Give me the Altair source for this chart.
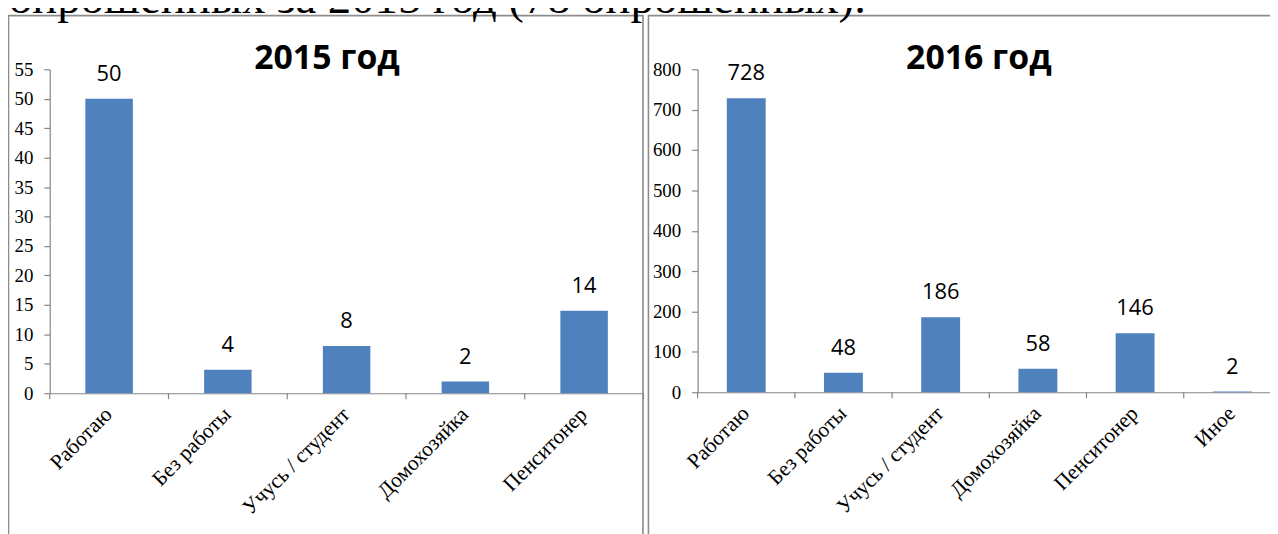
import altair as alt
import pandas as pd

# ---- data ----
cats_2015 = ["Работаю", "Без работы", "Учусь / студент", "Домохозяйка", "Пенситонер"]
vals_2015 = [50, 4, 8, 2, 14]
cats_2016 = ["Работаю", "Без работы", "Учусь / студент", "Домохозяйка", "Пенситонер", "Иное"]
vals_2016 = [728, 48, 186, 58, 146, 2]
yticks_2015 = [0, 5, 10, 15, 20, 25, 30, 35, 40, 45, 50, 55]
yticks_2016 = [0, 100, 200, 300, 400, 500, 600, 700, 800]
title_2015 = "2015 год"
title_2016 = "2016 год"
header_text = "опрошенных за 2015 год (78 опрошенных)."

# ---- style ----
W, H = 1270, 526
BLUE = "#4F81BD"
GRAY = "#868686"
BORDER = "#8C8C8C"
SERIF = "Liberation Serif"
SANS = "Open Sans"

df15 = pd.DataFrame({"cat": cats_2015, "val": vals_2015})
df16 = pd.DataFrame({"cat": cats_2016, "val": vals_2016})
one = pd.DataFrame({"k": [0]})


def panel(df, cats, yticks, ymax, xrange, yrange, yoff, xoff, axis_y):
    step = (xrange[1] - xrange[0]) / len(cats)
    gap = 0.3 * step
    x_axis = alt.Axis(orient="bottom", offset=xoff, title=None, labelAngle=-45,
                      labelAlign="right", labelBaseline="middle", labelPadding=18,
                      labelFont=SERIF, labelFontSize=21.5, labelColor="black",
                      domainColor=GRAY, domainWidth=1.2, ticks=False, grid=False)
    y_axis = alt.Axis(orient="left", offset=yoff, title=None, values=yticks,
                      labelFont=SERIF, labelFontSize=19, labelColor="black",
                      labelPadding=11, domainColor=GRAY, domainWidth=1.2,
                      tickColor=GRAY, tickSize=6, tickWidth=1.2, grid=False)
    x = alt.X("cat:N", sort=cats, axis=x_axis,
              scale=alt.Scale(range=xrange, paddingInner=0.6, paddingOuter=0.3))
    y = alt.Y("val:Q", axis=y_axis,
              scale=alt.Scale(domain=[0, ymax], range=yrange, nice=False))
    base = alt.Chart(df)
    bars = base.mark_bar(color=BLUE).encode(x=x, y=y)
    labels = base.mark_text(font=SANS, fontSize=22, color="black",
                            baseline="alphabetic", dy=-18).encode(
        x=alt.X("cat:N", sort=cats), y=alt.Y("val:Q"), text=alt.Text("val:Q"))
    # category-boundary tick marks (between the bars)
    ticks = base.mark_rule(color=GRAY, strokeWidth=1.2, xOffset=-gap).encode(
        x=alt.X("cat:N", sort=cats, bandPosition=0),
        y=alt.value(axis_y), y2=alt.value(axis_y + 6))
    end_tick = base.transform_filter(
        alt.datum.cat == cats[-1]
    ).mark_rule(color=GRAY, strokeWidth=1.2, xOffset=gap).encode(
        x=alt.X("cat:N", sort=cats, bandPosition=1),
        y=alt.value(axis_y), y2=alt.value(axis_y + 6))
    return alt.layer(bars, ticks, end_tick, labels)


left = panel(df15, cats_2015, yticks_2015, 55, [42, 639.5], [386, 60], -42, -140, 386)
right = panel(df16, cats_2016, yticks_2016, 800, [694, 1281], [385, 60], -694, -141, 385)

border_l = alt.Chart(one).mark_rect(fill=None, stroke=BORDER, strokeWidth=1.6).encode(
    x=alt.value(0.5), x2=alt.value(639), y=alt.value(6), y2=alt.value(560))
border_r = alt.Chart(one).mark_rect(fill=None, stroke=BORDER, strokeWidth=1.6).encode(
    x=alt.value(644.5), x2=alt.value(1300), y=alt.value(6), y2=alt.value(560))

header = alt.Chart(pd.DataFrame({"t": [header_text]})).mark_text(
    font=SERIF, fontSize=47, color="black", align="left", baseline="alphabetic"
).encode(text="t:N", x=alt.value(1), y=alt.value(3))

t15 = alt.Chart(pd.DataFrame({"t": [title_2015]})).mark_text(
    font=SANS, fontSize=34, fontWeight="bold", color="black", align="center",
    baseline="alphabetic").encode(text="t:N", x=alt.value(321), y=alt.value(60))
t16 = alt.Chart(pd.DataFrame({"t": [title_2016]})).mark_text(
    font=SANS, fontSize=34, fontWeight="bold", color="black", align="center",
    baseline="alphabetic").encode(text="t:N", x=alt.value(977), y=alt.value(60))

chart = alt.layer(border_l, border_r, header, left, right, t15, t16).resolve_scale(
    x="independent", y="independent"
).properties(
    width=W, height=H, padding=0,
    autosize=alt.AutoSizeParams(type="none"),
    background="white",
).configure_view(stroke=None)

chart.save("out.html", embed_options={"renderer": "svg", "actions": False})
